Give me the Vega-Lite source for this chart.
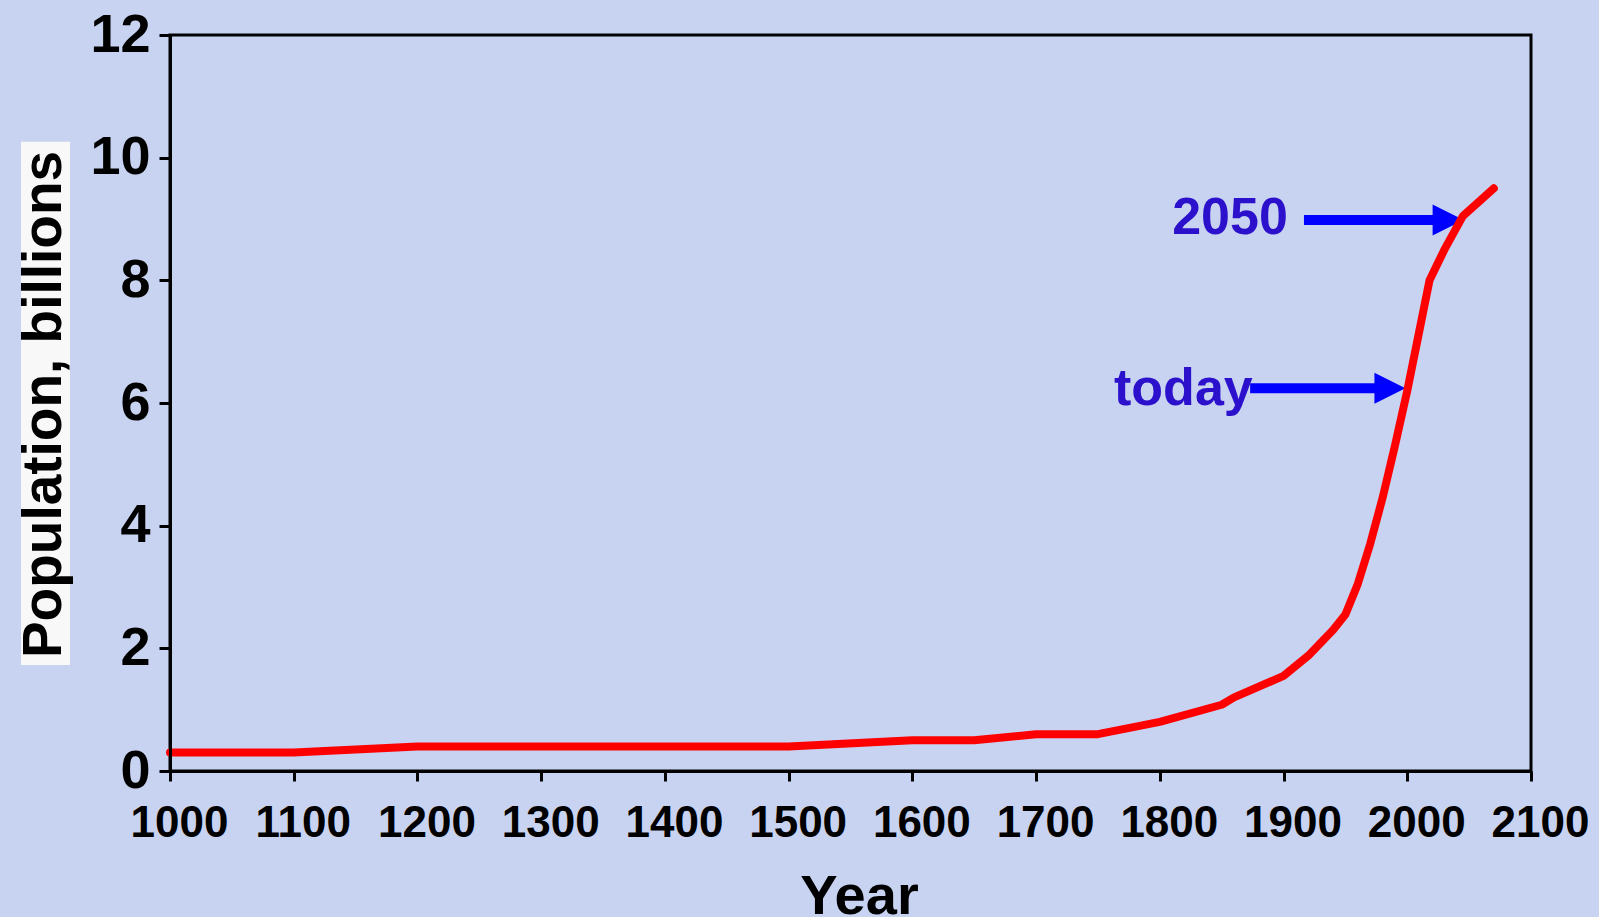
{
  "$schema": "https://vega.github.io/schema/vega-lite/v6.json",
  "autosize": {"type": "none"},
  "width": 1361,
  "height": 736,
  "padding": {"left": 170, "top": 35, "right": 68, "bottom": 146},
  "background": "#c8d3f2",
  "config": {
    "view": {"stroke": "#000000", "strokeWidth": 3},
    "font": "Liberation Sans"
  },
  "datasets": {
    "population": [
      {"year": 1000, "pop": 0.3},
      {"year": 1100, "pop": 0.3},
      {"year": 1200, "pop": 0.4},
      {"year": 1300, "pop": 0.4},
      {"year": 1400, "pop": 0.4},
      {"year": 1500, "pop": 0.4},
      {"year": 1600, "pop": 0.5},
      {"year": 1650, "pop": 0.5},
      {"year": 1700, "pop": 0.6},
      {"year": 1750, "pop": 0.6},
      {"year": 1800, "pop": 0.8},
      {"year": 1850, "pop": 1.08},
      {"year": 1860, "pop": 1.2},
      {"year": 1900, "pop": 1.55},
      {"year": 1920, "pop": 1.88},
      {"year": 1940, "pop": 2.3},
      {"year": 1950, "pop": 2.55},
      {"year": 1960, "pop": 3.05},
      {"year": 1970, "pop": 3.7},
      {"year": 1980, "pop": 4.45},
      {"year": 1990, "pop": 5.3},
      {"year": 2000, "pop": 6.2},
      {"year": 2010, "pop": 7.2},
      {"year": 2018, "pop": 8.0},
      {"year": 2030, "pop": 8.5},
      {"year": 2045, "pop": 9.05},
      {"year": 2070, "pop": 9.5}
    ],
    "box": [{"x1": 879.6, "x2": 919.2, "y1": 1.73, "y2": 10.26}],
    "arrows": [
      {"label": "2050", "x": 1916.5, "x2": 2033, "y": 8.984},
      {"label": "today", "x": 1873, "x2": 1986, "y": 6.24}
    ],
    "labels": [
      {"text": "2050", "x": 1810, "y": 8.756},
      {"text": "today", "x": 1763, "y": 5.968}
    ]
  },
  "layer": [
    {
      "data": {"name": "box"},
      "mark": {"type": "rect", "color": "#f8f8f8", "clip": false},
      "encoding": {
        "x": {
          "field": "x1", "type": "quantitative", "title": "Year",
          "scale": {"domain": [1000, 2100], "nice": false, "zero": false},
          "axis": {
            "title": "Year",
            "values": [1000, 1100, 1200, 1300, 1400, 1500, 1600, 1700, 1800, 1900, 2000, 2100],
            "format": "d",
            "grid": false,
            "labelFont": "Liberation Sans", "labelFontWeight": "bold", "labelFontSize": 44, "labelColor": "#000000",
            "labelPadding": 20, "labelFlush": false, "labelOverlap": false, "labelOffset": 9,
            "tickSize": 10, "tickWidth": 3, "tickColor": "#000000",
            "domainColor": "#000000", "domainWidth": 3,
            "titleFont": "Liberation Sans", "titleFontWeight": "bold", "titleFontSize": 56, "titleColor": "#000000",
            "titleX": 689, "titleY": 98, "titleBaseline": "top", "titleAlign": "center"
          }
        },
        "x2": {"field": "x2"},
        "y": {
          "field": "y1", "type": "quantitative", "title": "Population, billions",
          "scale": {"domain": [0, 12], "nice": false},
          "axis": {
            "title": "Population, billions",
            "values": [0, 2, 4, 6, 8, 10, 12],
            "format": "d",
            "grid": false,
            "zindex": 1,
            "labelFont": "Liberation Sans", "labelFontWeight": "bold", "labelFontSize": 54, "labelColor": "#000000",
            "labelPadding": 9, "labelFlush": false, "labelOverlap": false, "labelBaseline": "middle",
            "tickSize": 11, "tickWidth": 3, "tickColor": "#000000",
            "domainColor": "#000000", "domainWidth": 3,
            "titleFont": "Liberation Sans", "titleFontWeight": "bold", "titleFontSize": 55, "titleColor": "#000000",
            "titleAngle": -90, "titleX": -110, "titleY": 369, "titleBaseline": "alphabetic", "titleAlign": "center"
          }
        },
        "y2": {"field": "y2"}
      }
    },
    {
      "data": {"name": "arrows"},
      "mark": {"type": "rule", "color": "#0000ff", "strokeWidth": 10, "strokeCap": "butt"},
      "encoding": {
        "x": {"field": "x", "type": "quantitative", "title": "Year"},
        "x2": {"field": "x2"},
        "y": {"field": "y", "type": "quantitative", "title": "Population, billions"}
      }
    },
    {
      "data": {"name": "arrows"},
      "mark": {"type": "point", "shape": "M -1 -1 L 1 0 L -1 1 Z", "size": 961, "filled": true, "color": "#0000ff", "opacity": 1, "strokeWidth": 0},
      "encoding": {
        "x": {"field": "x2", "type": "quantitative", "title": "Year"},
        "y": {"field": "y", "type": "quantitative", "title": "Population, billions"}
      }
    },
    {
      "data": {"name": "population"},
      "mark": {"type": "line", "color": "#ff0000", "strokeWidth": 8, "strokeCap": "round", "strokeJoin": "round"},
      "encoding": {
        "x": {"field": "year", "type": "quantitative", "title": "Year"},
        "y": {"field": "pop", "type": "quantitative", "title": "Population, billions"}
      }
    },
    {
      "data": {"name": "labels"},
      "mark": {"type": "text", "color": "#2b10cc", "font": "Liberation Sans", "fontWeight": "bold", "fontSize": 52, "align": "left", "baseline": "alphabetic"},
      "encoding": {
        "x": {"field": "x", "type": "quantitative", "title": "Year"},
        "y": {"field": "y", "type": "quantitative", "title": "Population, billions"},
        "text": {"field": "text"}
      }
    }
  ]
}
